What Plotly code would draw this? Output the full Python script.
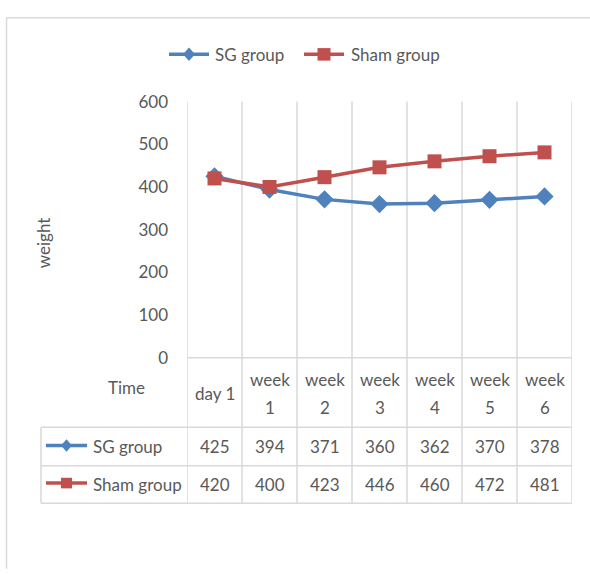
import plotly.graph_objects as go

# ---- data -------------------------------------------------------------
categories = ["day 1", "week 1", "week 2", "week 3", "week 4", "week 5", "week 6"]
sg_group = [425, 394, 371, 360, 362, 370, 378]
sham_group = [420, 400, 423, 446, 460, 472, 481]
series_names = ["SG group", "Sham group"]
y_ticks = [0, 100, 200, 300, 400, 500, 600]
y_title = "weight"
x_title = "Time"

# ---- style ------------------------------------------------------------
W, H = 590, 574
BLUE = "#4f81bd"
RED = "#c0504d"
TEXT = "#595959"
GRID = "#d9d9d9"
FONT = "Lato, Carlito, sans-serif"
FS = 17

# plot box in pixels (left, right, top, bottom)
PL, PR, PT, PB = 187, 572, 94, 360
# table rows (pixels)
T_HEAD, T_ROW1, T_ROW2, T_BOT = 360, 432, 472, 511
T_LEFT = 41


def px(x):
    return x / W


def py(y):
    return 1 - y / H


fig = go.Figure()
fig.add_trace(go.Scatter(
    x=categories, y=sg_group, name=series_names[0], mode="lines+markers",
    line=dict(color=BLUE, width=3.5),
    marker=dict(symbol="diamond", size=14, color=BLUE),
    showlegend=False, cliponaxis=False))
fig.add_trace(go.Scatter(
    x=categories, y=sham_group, name=series_names[1], mode="lines+markers",
    line=dict(color=RED, width=3.5),
    marker=dict(symbol="square", size=14, color=RED),
    showlegend=False, cliponaxis=False))

shapes = []
annotations = []

# outer chart border (top and left edges)
shapes.append(dict(type="line", xref="paper", yref="paper",
                   x0=px(6.5), x1=px(W + 5), y0=py(7), y1=py(7),
                   line=dict(color=GRID, width=1.5)))
shapes.append(dict(type="line", xref="paper", yref="paper",
                   x0=px(6.5), x1=px(6.5), y0=py(7), y1=py(H + 5),
                   line=dict(color=GRID, width=1.5)))

# vertical lines on category boundaries, through plot and data table
n = len(categories)
for i in range(n + 1):
    shapes.append(dict(type="line", xref="x", yref="paper",
                       x0=i - 0.5, x1=i - 0.5, y0=py(PT), y1=py(T_BOT),
                       line=dict(color=GRID, width=1.5), layer="below"))
# horizontal lines of the table
shapes.append(dict(type="line", xref="paper", yref="paper",
                   x0=px(PL), x1=px(PR), y0=py(T_HEAD), y1=py(T_HEAD),
                   line=dict(color=GRID, width=1.5), layer="below"))
for yy in (T_ROW1, T_ROW2, T_BOT):
    shapes.append(dict(type="line", xref="paper", yref="paper",
                       x0=px(T_LEFT), x1=px(PR), y0=py(yy), y1=py(yy),
                       line=dict(color=GRID, width=1.5), layer="below"))
shapes.append(dict(type="line", xref="paper", yref="paper",
                   x0=px(T_LEFT), x1=px(T_LEFT), y0=py(T_ROW1), y1=py(T_BOT),
                   line=dict(color=GRID, width=1.5), layer="below"))


def legend_glyph(cx, cy, color, symbol, half, line_half):
    shapes.append(dict(type="line", xref="paper", yref="paper",
                       x0=px(cx - line_half), x1=px(cx + line_half),
                       y0=py(cy), y1=py(cy),
                       line=dict(color=color, width=3.5)))
    if symbol == "diamond":
        path = (f"M {px(cx)},{py(cy - half - 1)} L {px(cx + half)},{py(cy)} "
                f"L {px(cx)},{py(cy + half + 1)} L {px(cx - half)},{py(cy)} Z")
        shapes.append(dict(type="path", xref="paper", yref="paper", path=path,
                           fillcolor=color, line=dict(width=0)))
    else:
        shapes.append(dict(type="rect", xref="paper", yref="paper",
                           x0=px(cx - half), x1=px(cx + half),
                           y0=py(cy - half), y1=py(cy + half),
                           fillcolor=color, line=dict(width=0)))


def text(x, y, s, xanchor="center", xref="paper", angle=0):
    annotations.append(dict(x=x, y=y, xref=xref, yref="paper", text=s,
                            showarrow=False, xanchor=xanchor, yanchor="middle",
                            textangle=angle,
                            font=dict(family=FONT, size=FS, color=TEXT)))


# top legend
legend_glyph(189, 45, BLUE, "diamond", 6, 20)
text(px(213), py(45), series_names[0], xanchor="left")
legend_glyph(324, 45, RED, "square", 6.5, 20)
text(px(349), py(45), series_names[1], xanchor="left")

# axis titles
text(px(43), py(241), y_title, angle=-90)
text(px(126), py(391), x_title)

# table header: category labels
for i, c in enumerate(categories):
    if c.startswith("week"):
        word, num = c.split(" ")
        text(i, py(383), word, xref="x")
        text(i, py(412), num, xref="x")
    else:
        text(i, py(397), c, xref="x")

# table rows: series legend keys and values
rows = [(sg_group, BLUE, "diamond", 5.5, 452), (sham_group, RED, "square", 5.5, 491)]
for (vals, color, sym, half, yc), name in zip(rows, series_names):
    legend_glyph(66.5, yc - 1, color, sym, half, 20.5)
    text(px(91), py(yc), name, xanchor="left")
    for i, v in enumerate(vals):
        text(i, py(yc), str(v), xref="x")

fig.update_layout(
    width=W, height=H,
    margin=dict(l=0, r=0, t=0, b=0),
    paper_bgcolor="white", plot_bgcolor="white",
    font=dict(family=FONT, size=FS, color=TEXT),
    xaxis=dict(domain=[px(PL), px(PR)], type="category", range=[-0.5, n - 0.5],
               showgrid=False, zeroline=False, showline=False,
               showticklabels=False, ticks=""),
    yaxis=dict(domain=[py(PB), py(PT)], range=[0, 600], tickvals=y_ticks,
               showgrid=False, zeroline=False, showline=False, ticks="",
               ticklabelstandoff=18,
               tickfont=dict(family=FONT, size=FS, color=TEXT)),
    shapes=shapes,
    annotations=annotations,
    showlegend=False,
)

fig.write_html("out.html")
